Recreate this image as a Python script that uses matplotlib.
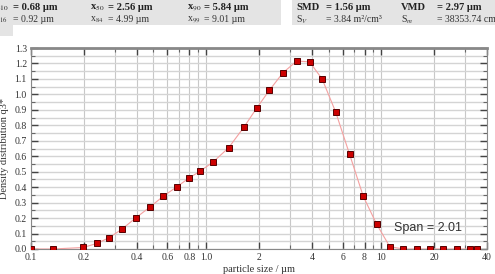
import matplotlib
matplotlib.use("Agg")
import matplotlib.pyplot as plt
from matplotlib.patches import Rectangle
from matplotlib.ticker import FixedLocator, FixedFormatter, MultipleLocator, NullFormatter
import numpy as np

plt.rcParams['mathtext.fontset'] = 'stix'

# ---- data ----
sizes = [0.1, 0.134, 0.199, 0.239, 0.279, 0.329, 0.398, 0.478, 0.568, 0.677, 0.798,
         0.927, 1.095, 1.342, 1.643, 1.944, 2.291, 2.739, 3.286, 3.888, 4.583, 5.477,
         6.573, 7.869, 9.366, 11.155, 13.346, 15.94, 18.93, 22.51, 26.89, 32.08, 35.0]
q3 = [0.0, 0.0, 0.01, 0.037, 0.073, 0.127, 0.203, 0.272, 0.341, 0.401, 0.459,
      0.505, 0.563, 0.655, 0.789, 0.913, 1.026, 1.14, 1.216, 1.21, 1.10, 0.886,
      0.613, 0.341, 0.162, 0.015, 0.0, 0.0, 0.0, 0.0, 0.0, 0.0, 0.0]
xtick_vals = [0.1, 0.2, 0.4, 0.6, 0.8, 1.0, 2, 4, 6, 8, 10, 20, 40]
xtick_labels = ["0.1", "0.2", "0.4", "0.6", "0.8", "1.0", "2", "4", "6", "8", "10", "20", "40"]
ytick_vals = [0.0, 0.1, 0.2, 0.3, 0.4, 0.5, 0.6, 0.7, 0.8, 0.9, 1.0, 1.1, 1.2, 1.3]
ytick_labels = ["0.0", "0.1", "0.2", "0.3", "0.4", "0.5", "0.6", "0.7", "0.8", "0.9",
                "1.0", "1.1", "1.2", "1.3"]
header_row1 = [("x$_{10}$", "= 0.68 µm"), ("x$_{50}$", "= 2.56 µm"), ("x$_{90}$", "= 5.84 µm"),
               ("SMD", "= 1.56 µm"), ("VMD", "= 2.97 µm")]
header_row2 = [("x$_{16}$", "= 0.92 µm"), ("x$_{84}$", "= 4.99 µm"), ("x$_{99}$", "= 9.01 µm"),
               ("S$_{V}$", "= 3.84 m²/cm³"), ("S$_{m}$", "= 38353.74 cm²/g")]
span_text = "Span = 2.01"

W, H = 495, 274
fig = plt.figure(figsize=(W / 100, H / 100), dpi=100)
fig.patch.set_facecolor("white")

def fx(px):
    return px / W

def fy(py):
    return 1 - py / H

# header boxes
hdr_col = "#e4e4e4"
for (x0, y0, x1, y1) in [(0, 0, 281, 25), (292, 0, 495, 25), (0, 25, 13, 36)]:
    fig.patches.append(Rectangle((fx(x0), fy(y1)), fx(x1 - x0), (y1 - y0) / H,
                                 transform=fig.transFigure, facecolor=hdr_col,
                                 edgecolor="none", zorder=0))

label_x = [-6, 90, 187, 296, 401]
value_x = [13, 108, 204, 326, 437]
for i, (lab, val) in enumerate(header_row1):
    fig.text(fx(label_x[i]), fy(8), lab, fontsize=7.6, fontweight="bold",
             family="Liberation Serif", va="center", ha="left", color="#222222")
    fig.text(fx(value_x[i]), fy(8), val, fontsize=7.6, fontweight="bold",
             family="Liberation Serif", va="center", ha="left", color="#222222")
for i, (lab, val) in enumerate(header_row2):
    fig.text(fx(label_x[i]), fy(20), lab, fontsize=7,
             family="Liberation Serif", va="center", ha="left", color="#333333")
    fig.text(fx(value_x[i]), fy(20), val, fontsize=7,
             family="Liberation Serif", va="center", ha="left", color="#333333")

# axes
ax = fig.add_axes([fx(31), fy(249), fx(487 - 31), (249 - 48) / H])
ax.set_xscale("log")
ax.set_xlim(0.1, 40)
ax.set_ylim(0.0, 1.3)

ax.plot(sizes, q3, color="#f4a0a0", linewidth=0.8, zorder=3)
ax.plot(sizes, q3, linestyle="none", marker="s", markersize=4.8,
        markerfacecolor="#cc0000", markeredgecolor="#550000", markeredgewidth=0.7, zorder=4)

ax.xaxis.set_major_locator(FixedLocator(xtick_vals))
ax.xaxis.set_major_formatter(FixedFormatter(xtick_labels))
minor_x = [v for dec in [0.1, 1, 10] for v in [dec * k for k in range(1, 10)] if v <= 40]
ax.xaxis.set_minor_locator(FixedLocator(minor_x))
ax.xaxis.set_minor_formatter(NullFormatter())
ax.yaxis.set_major_locator(FixedLocator(ytick_vals))
ax.yaxis.set_major_formatter(FixedFormatter(ytick_labels))
ax.yaxis.set_minor_locator(MultipleLocator(0.05))

ax.grid(True, which="both", axis="x", color="#c8c8c8", linewidth=0.8)
ax.grid(True, which="both", axis="y", color="#d4d4d4", linewidth=1.0)
ax.set_axisbelow(True)

ax.tick_params(axis="both", which="major", direction="in", length=5, width=1.0,
               color="#444444", labelsize=7, labelcolor="#333333",
               top=True, right=True, pad=3)
ax.tick_params(axis="both", which="minor", direction="in", length=3, width=0.8,
               color="#666666", top=True, right=True)
for lab in ax.get_xticklabels() + ax.get_yticklabels():
    lab.set_family("Liberation Serif")

for side in ["left", "right", "bottom"]:
    ax.spines[side].set_color("#888888")
    ax.spines[side].set_linewidth(0.8)
ax.spines["top"].set_color("#888888")
ax.spines["top"].set_linewidth(2.0)

ax.set_xlabel("particle size / µm", family="Liberation Serif", fontsize=7.5,
              color="#333333", labelpad=2)
ax.set_ylabel("Density distribution q3*", family="Liberation Serif", fontsize=7.5,
              color="#333333", labelpad=4)

ax.text(11.8, 0.135, span_text, family="Liberation Sans", fontsize=9,
        color="#333333", ha="left", va="center", zorder=5)

fig.savefig("out.png", dpi=100)
